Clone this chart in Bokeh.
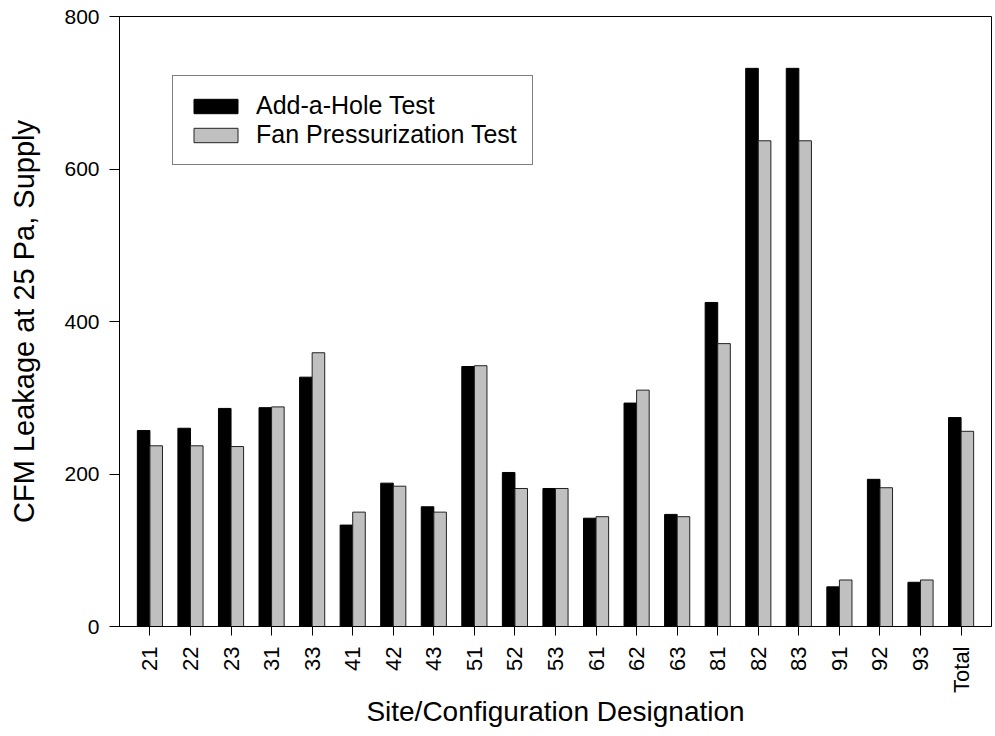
import math
from bokeh.plotting import figure
from bokeh.models import FixedTicker, Range1d, Legend, LegendItem, ColumnDataSource
from bokeh.embed import file_html
from bokeh.resources import INLINE

sites = ["21", "22", "23", "31", "33", "41", "42", "43", "51", "52", "53",
         "61", "62", "63", "81", "82", "83", "91", "92", "93", "Total"]
add_a_hole = [257, 260, 286, 287, 327, 133, 188, 157, 341, 202, 181,
              142, 293, 147, 425, 732, 732, 52, 193, 58, 274]
fan_press = [237, 237, 236, 288, 359, 150, 184, 150, 342, 181, 181,
             144, 310, 144, 371, 637, 637, 61, 182, 61, 256]
y_ticks = [0, 200, 400, 600, 800]

FONT = "Liberation Sans"
BAR_W = 0.31

xs = list(range(len(sites)))
src = ColumnDataSource(dict(
    x=xs,
    xa=[x - BAR_W / 2 for x in xs],
    xf=[x + BAR_W / 2 for x in xs],
    a=add_a_hole,
    f=fan_press,
))

p = figure(width=993, height=734, output_backend="svg", toolbar_location=None,
           x_range=Range1d(-0.75, len(sites) - 0.25), y_range=Range1d(0, 800),
           min_border_left=119, min_border_right=2, min_border_top=16, min_border_bottom=108)

r1 = p.vbar(x="xa", top="a", width=BAR_W, bottom=0, source=src,
            fill_color="black", line_color="black", line_width=1)
r2 = p.vbar(x="xf", top="f", width=BAR_W, bottom=0, source=src,
            fill_color="#c0c0c0", line_color="#222222", line_width=1)

p.xgrid.visible = False
p.ygrid.visible = False
p.outline_line_color = "black"
p.outline_line_width = 1
p.background_fill_color = "white"
p.border_fill_color = "white"

xa = p.xaxis[0]
xa.ticker = FixedTicker(ticks=xs)
xa.major_label_overrides = {i: s for i, s in enumerate(sites)}
xa.major_label_orientation = math.pi / 2
xa.minor_tick_line_color = None
xa.major_tick_out = 9
xa.major_tick_in = 0
xa.major_label_standoff = 11
xa.major_label_text_font = FONT
xa.major_label_text_font_size = "22px"
xa.major_label_text_color = "black"
xa.axis_label = "Site/Configuration Designation"
xa.axis_label_text_font = FONT
xa.axis_label_text_font_size = "28px"
xa.axis_label_text_font_style = "normal"
xa.axis_label_text_color = "black"
xa.axis_label_standoff = 0
xa.axis_line_color = "black"
xa.major_tick_line_color = "black"

ya = p.yaxis[0]
ya.ticker = FixedTicker(ticks=y_ticks)
ya.minor_tick_line_color = None
ya.major_tick_out = 10
ya.major_tick_in = 0
ya.major_label_standoff = 10
ya.major_label_text_font = FONT
ya.major_label_text_font_size = "21px"
ya.major_label_text_color = "black"
ya.axis_label = "CFM Leakage at 25 Pa, Supply"
ya.axis_label_text_font = FONT
ya.axis_label_text_font_size = "29px"
ya.axis_label_text_font_style = "normal"
ya.axis_label_text_color = "black"
ya.axis_label_standoff = 21
ya.axis_line_color = "black"
ya.major_tick_line_color = "black"

legend = Legend(items=[LegendItem(label="Add-a-Hole Test", renderers=[r1]),
                       LegendItem(label="Fan Pressurization Test", renderers=[r2])],
                location=(53, 461))
legend.label_text_font = FONT
legend.label_text_font_size = "25px"
legend.label_text_color = "black"
legend.glyph_width = 55
legend.glyph_height = 18
legend.label_height = 28
legend.label_standoff = 13
legend.spacing = 0
legend.padding = 15
legend.margin = 0
legend.border_line_color = "black"
legend.border_line_width = 1
legend.background_fill_color = "white"
legend.background_fill_alpha = 1
p.add_layout(legend, "center")

open("out.html", "w").write(file_html(p, INLINE))
